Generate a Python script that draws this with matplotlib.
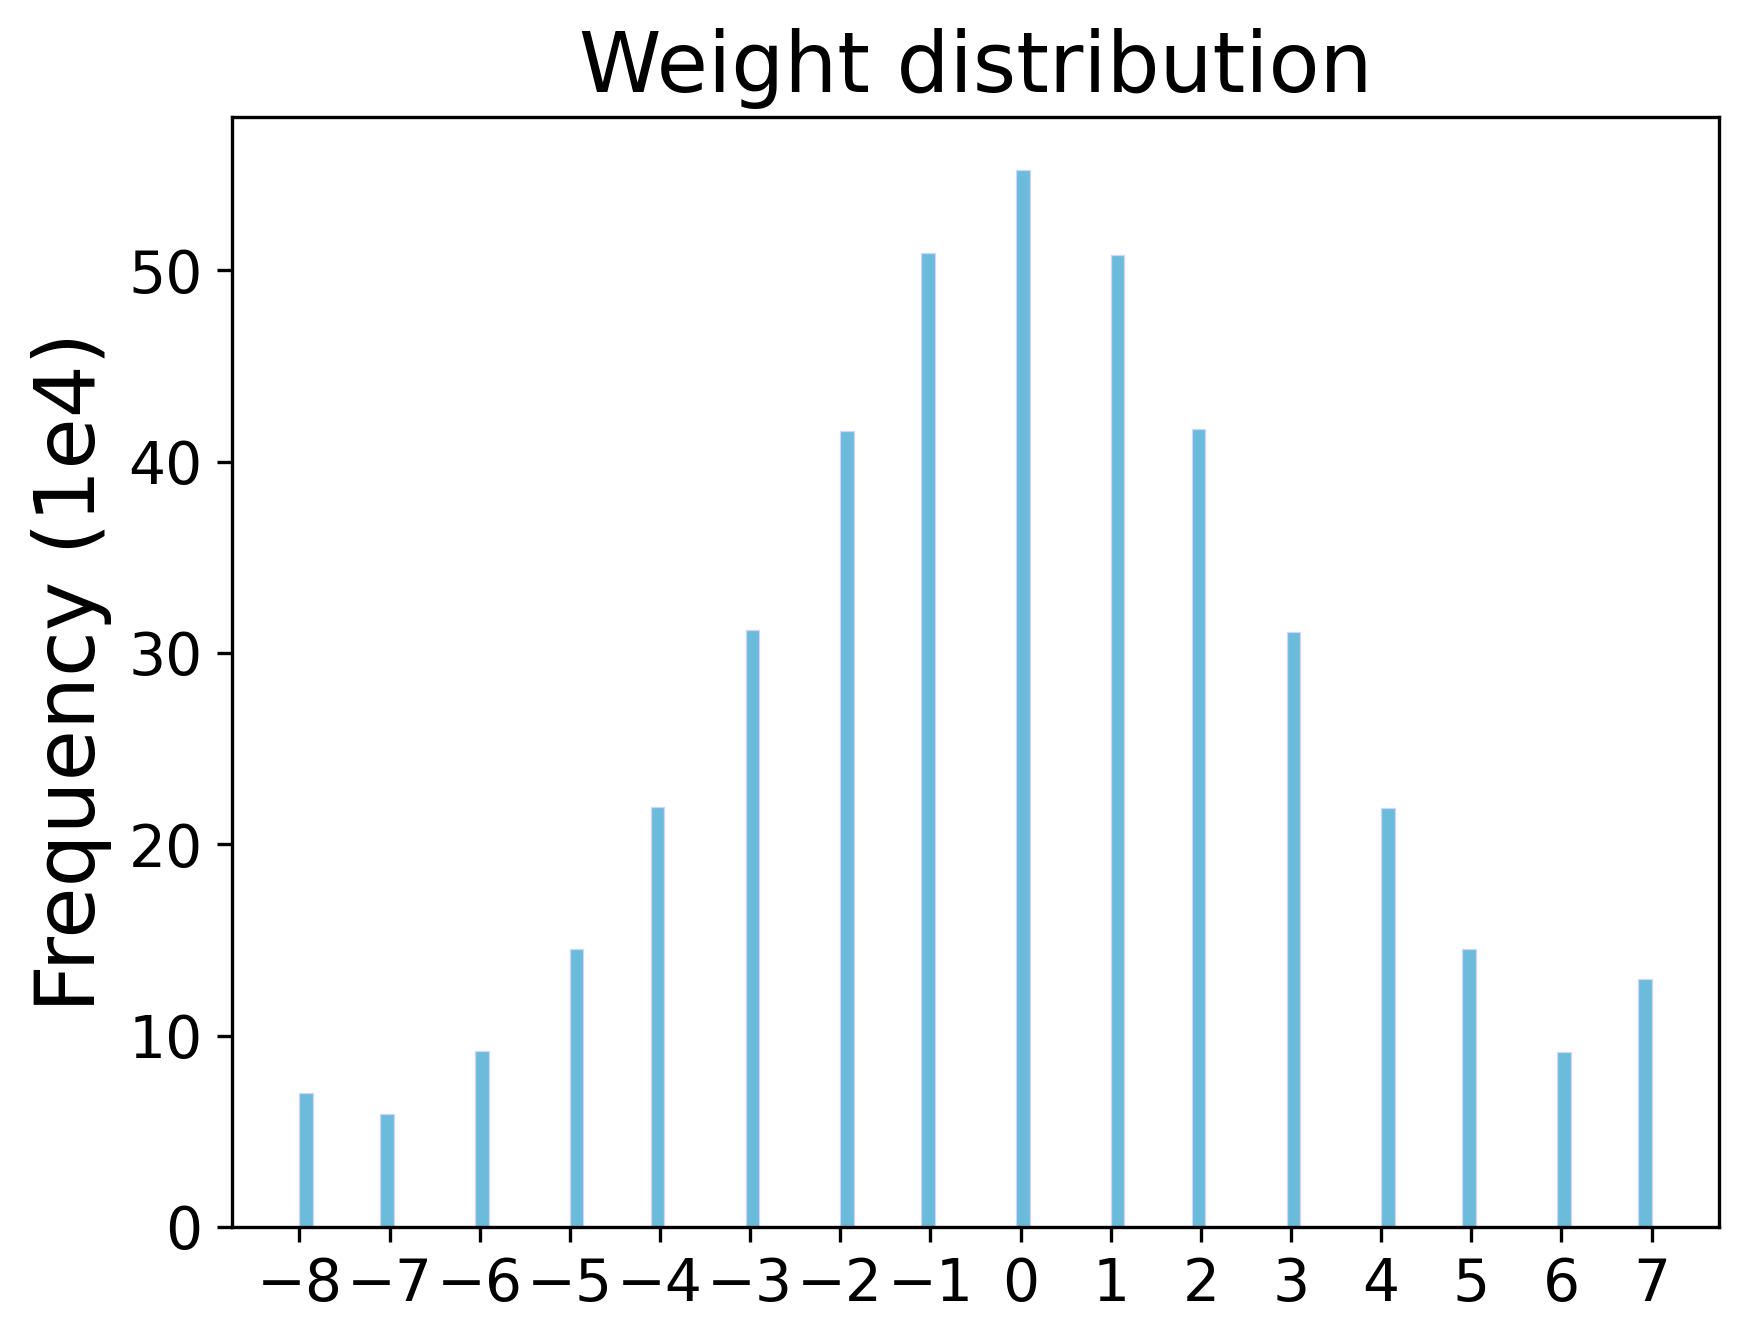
import numpy as np
import matplotlib
matplotlib.use('Agg')
import matplotlib.pyplot as plt

# quantized weight levels and their counts (in units of 1e4)
levels = [-8, -7, -6, -5, -4, -3, -2, -1, 0, 1, 2, 3, 4, 5, 6, 7]
freqs = [7.0, 5.9, 9.2, 14.5, 21.95, 31.2, 41.6, 50.9,
         55.25, 50.8, 41.7, 31.1, 21.9, 14.5, 9.15, 12.95]
tick_labels = [str(v) for v in levels]

fig = plt.figure(figsize=(1749 / 300, 1343 / 300), dpi=300)
ax = fig.add_axes([0.1325, 0.0864, 0.8505, 0.8266])

ax.hist(levels, bins=100, weights=freqs, color='#6abcda',
        edgecolor='#d4d4fa', linewidth=0.3)
ax.set_xticks(levels)
ax.set_xticklabels([l.replace('-', '\u2212') for l in tick_labels])
ax.tick_params(labelsize=14)
ax.set_ylabel('Frequency (1e4)', fontsize=20)
ax.set_title('Weight distribution', fontsize=20)

fig.savefig('out.png', dpi=300)
